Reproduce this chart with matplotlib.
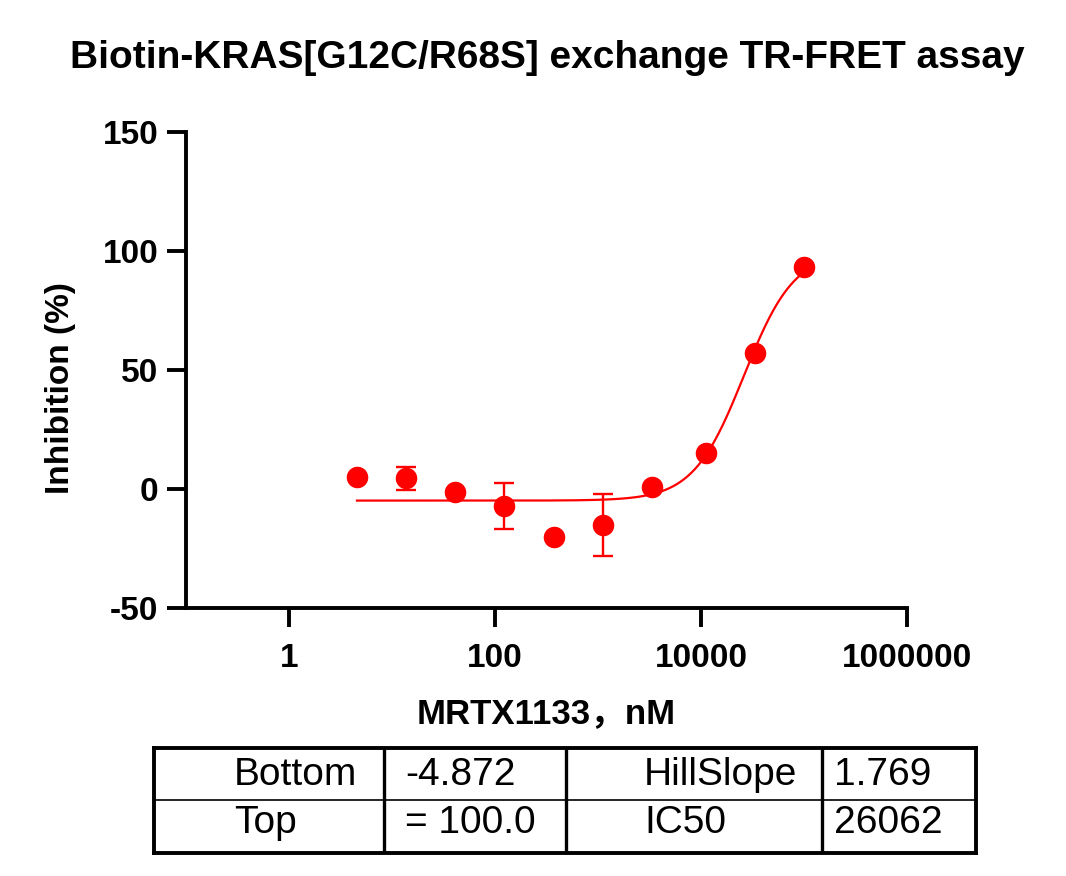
import numpy as np
import matplotlib
matplotlib.use("Agg")
import matplotlib.pyplot as plt

# concentrations (nM) and inhibition (%)
conc = [4.57, 13.7, 41.2, 123.5, 370.4, 1111, 3333, 11111, 33333, 100000]
inhibition = [4.9, 4.5, -1.4, -7.1, -20.0, -15.1, 0.7, 15.0, 57.0, 93.1]
inh_err = [0, 4.75, 0, 9.5, 0, 13.2, 0, 0, 0, 0]

# fit parameters (4PL)
fit_names = ["Bottom", "Top", "HillSlope", "IC50"]
fit_labels = ["-4.872", "= 100.0", "1.769", "26062"]
bottom, top, hill, ic50 = -4.872, 100.0, 1.769, 26062

xticks = [1, 100, 10000, 1000000]
xticklabels = ["1", "100", "10000", "1000000"]
yticks = [-50, 0, 50, 100, 150]

RED = "#ff0000"
plt.rcParams["font.family"] = ["Liberation Sans", "Noto Sans CJK SC", "DejaVu Sans"]

fig = plt.figure(figsize=(10.66, 8.76), dpi=100)
ax = fig.add_axes([186 / 1066, 1 - 608 / 876, (907 - 186) / 1066, (608 - 132) / 876])

xfit = np.logspace(np.log10(conc[0]), np.log10(conc[-1]), 300)
yfit = bottom + (top - bottom) / (1 + (ic50 / xfit) ** hill)
ax.plot(xfit, yfit, color=RED, lw=1.6, zorder=2)

err = np.array(inh_err)
ax.errorbar(conc, inhibition, yerr=np.where(err > 0, err, np.nan), fmt="none",
            ecolor=RED, elinewidth=1.7, capsize=7, capthick=1.7, zorder=3)
ax.plot(conc, inhibition, "o", color=RED, ms=14.5, mec=RED, zorder=4)

ax.set_xscale("log")
ax.set_xlim(0.1, 1e6)
ax.set_ylim(-50, 150)
ax.set_xticks(xticks)
ax.set_xticklabels(xticklabels)
ax.xaxis.set_minor_locator(matplotlib.ticker.NullLocator())
ax.set_yticks(yticks)
ax.set_yticklabels([str(v) for v in yticks])

for s in ["top", "right"]:
    ax.spines[s].set_visible(False)
for s in ["left", "bottom"]:
    ax.spines[s].set_linewidth(2.8)
ax.tick_params(axis="both", width=2.8, length=14, labelsize=24)
ax.tick_params(axis="x", pad=11)
ax.tick_params(axis="y", pad=6)
for lab in ax.get_xticklabels() + ax.get_yticklabels():
    lab.set_fontweight("bold")

ax.set_xlabel("MRTX1133，nM", fontsize=25, fontweight="bold", labelpad=17)
ax.set_ylabel("Inhibition (%)", fontsize=24, fontweight="bold")
ax.yaxis.set_label_coords(-0.153, 0.462)
fig.text(547 / 1066, 1 - 67.7 / 876, "Biotin-KRAS[G12C/R68S] exchange TR-FRET assay",
         fontsize=28, fontweight="bold", ha="center", va="baseline")

# parameter table
col_w = [230, 182, 256, 154]
col_pad = [80, 21, 78, 12]
tab = fig.add_axes([154 / 1066, 1 - 852.5 / 876, sum(col_w) / 1066, 104.5 / 876])
tab.set_xlim(0, sum(col_w))
tab.set_ylim(0, 2)
tab.set_xticks([])
tab.set_yticks([])
for s in tab.spines.values():
    s.set_linewidth(2.8)
edges = np.cumsum(col_w)
for e in edges[:-1]:
    tab.axvline(e, color="black", lw=2.4)
tab.axhline(1, color="black", lw=1.2)
cells = [[fit_names[0], fit_labels[0], fit_names[2], fit_labels[2]],
         [fit_names[1], fit_labels[1], fit_names[3], fit_labels[3]]]
baselines = [1.30, 0.365]
starts = np.concatenate([[0], edges[:-1]])
for r, row in enumerate(cells):
    for c, txt in enumerate(row):
        tab.text(starts[c] + col_pad[c], baselines[r], txt, fontsize=28,
                 ha="left", va="baseline")

fig.savefig("out.png", dpi=100)
